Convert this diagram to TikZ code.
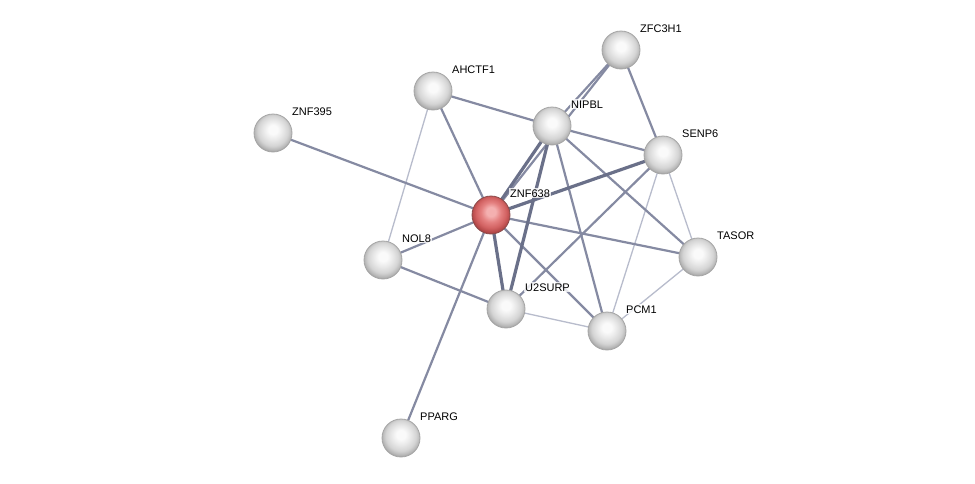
\documentclass[tikz,border=0pt]{standalone}
\usepackage{fontspec}
\setmainfont{Liberation Sans}
\usetikzlibrary{calc,backgrounds}
\definecolor{edgethin}{HTML}{B8BCCC}
\definecolor{edgemed}{HTML}{858AA2}
\definecolor{edgethick}{HTML}{6A7089}
\definecolor{gA}{HTML}{FAFAFA}
\definecolor{gB}{HTML}{E8E8E8}
\definecolor{gC}{HTML}{D4D4D4}
\definecolor{gD}{HTML}{B4B4B4}
\definecolor{gE}{HTML}{8C8C8C}
\definecolor{rA}{HTML}{F4B0B0}
\definecolor{rB}{HTML}{E48080}
\definecolor{rC}{HTML}{D26262}
\definecolor{rD}{HTML}{B44848}
\definecolor{rE}{HTML}{8C3030}
\pgfdeclareradialshading{greysphere}{\pgfpoint{0bp}{5bp}}{%
  color(0bp)=(gA); color(6bp)=(gA); color(13bp)=(gB); color(20bp)=(gC);
  color(25bp)=(gD); color(29bp)=(gE); color(50bp)=(gE)}
\pgfdeclareradialshading{redsphere}{\pgfpoint{0bp}{5bp}}{%
  color(0bp)=(rA); color(6bp)=(rA); color(13bp)=(rB); color(20bp)=(rC);
  color(25bp)=(rD); color(29bp)=(rE); color(50bp)=(rE)}
\tikzset{
  prot/.style={circle, minimum size=38pt, inner sep=0pt, draw=gray!70, line width=0.8pt, shading=greysphere},
  query/.style={prot, draw=red!35!black!70, shading=redsphere},
  lbl/.style={anchor=base west, font=\fontsize{11pt}{12pt}\selectfont, inner sep=1pt, fill=white, fill opacity=0.8, text opacity=1},
  ethin/.style={draw=edgethin, line width=1.3pt},
  emed/.style={draw=edgemed, line width=2.2pt},
  ethick/.style={draw=edgethick, line width=3.2pt},
}
\begin{document}
\begin{tikzpicture}[x=1pt,y=-1pt]
\useasboundingbox (0,0) rectangle (975,483);
% nodes
\node[prot] (ZFC3H1) at (621,50) {};
\node[prot] (AHCTF1) at (433,91) {};
\node[prot] (ZNF395) at (273,133) {};
\node[prot] (SENP6) at (663,155) {};
\node[query] (ZNF638) at (491,215) {};
\node[prot] (NOL8) at (383,260) {};
\node[prot] (TASOR) at (698,257) {};
\node[prot] (U2SURP) at (506,309) {};
\node[prot] (PCM1) at (607,331) {};
\node[prot] (PPARG) at (401,438) {};
\node[prot] (NIPBL) at (552,126) {};
% labels
\node[lbl] (lZFC3H1) at ($(ZFC3H1)+(18,-18)$) {ZFC3H1};
\node[lbl] (lAHCTF1) at ($(AHCTF1)+(18,-18)$) {AHCTF1};
\node[lbl] (lZNF395) at ($(ZNF395)+(18,-18)$) {ZNF395};
\node[lbl] (lNIPBL) at ($(NIPBL)+(18,-18)$) {NIPBL};
\node[lbl] (lSENP6) at ($(SENP6)+(18,-18)$) {SENP6};
\node[lbl] (lZNF638) at ($(ZNF638)+(18,-18)$) {ZNF638};
\node[lbl] (lNOL8) at ($(NOL8)+(18,-18)$) {NOL8};
\node[lbl] (lTASOR) at ($(TASOR)+(18,-18)$) {TASOR};
\node[lbl] (lU2SURP) at ($(U2SURP)+(18,-18)$) {U2SURP};
\node[lbl] (lPCM1) at ($(PCM1)+(18,-18)$) {PCM1};
\node[lbl] (lPPARG) at ($(PPARG)+(18,-18)$) {PPARG};
% edges
\begin{scope}[on background layer]
\fill[white] (0,0) rectangle (975,483);
\draw[ethin] (AHCTF1.center) -- (NOL8.center);
\draw[ethin] (SENP6.center) -- (PCM1.center);
\draw[ethin] (SENP6.center) -- (TASOR.center);
\draw[ethin] (U2SURP.center) -- (PCM1.center);
\draw[ethin] (PCM1.center) -- (TASOR.center);
\draw[emed] (ZNF395.center) -- (ZNF638.center);
\draw[emed] (AHCTF1.center) -- (ZNF638.center);
\draw[emed] (AHCTF1.center) -- (NIPBL.center);
\draw[emed] (ZFC3H1.center) -- (NIPBL.center);
\draw[emed] (ZFC3H1.center) -- (ZNF638.center);
\draw[emed] (ZFC3H1.center) -- (SENP6.center);
\draw[emed] (NIPBL.center) -- (SENP6.center);
\draw[emed] (NIPBL.center) -- (PCM1.center);
\draw[emed] (NIPBL.center) -- (TASOR.center);
\draw[emed] (SENP6.center) -- (U2SURP.center);
\draw[emed] (ZNF638.center) -- (NOL8.center);
\draw[emed] (ZNF638.center) -- (TASOR.center);
\draw[emed] (ZNF638.center) -- (PCM1.center);
\draw[emed] (ZNF638.center) -- (PPARG.center);
\draw[emed] (NOL8.center) -- (U2SURP.center);
\draw[ethick] (NIPBL.center) -- (ZNF638.center);
\draw[ethick] (NIPBL.center) -- (U2SURP.center);
\draw[ethick] (SENP6.center) -- (ZNF638.center);
\draw[ethick] (ZNF638.center) -- (U2SURP.center);
\end{scope}
\end{tikzpicture}
\end{document}
